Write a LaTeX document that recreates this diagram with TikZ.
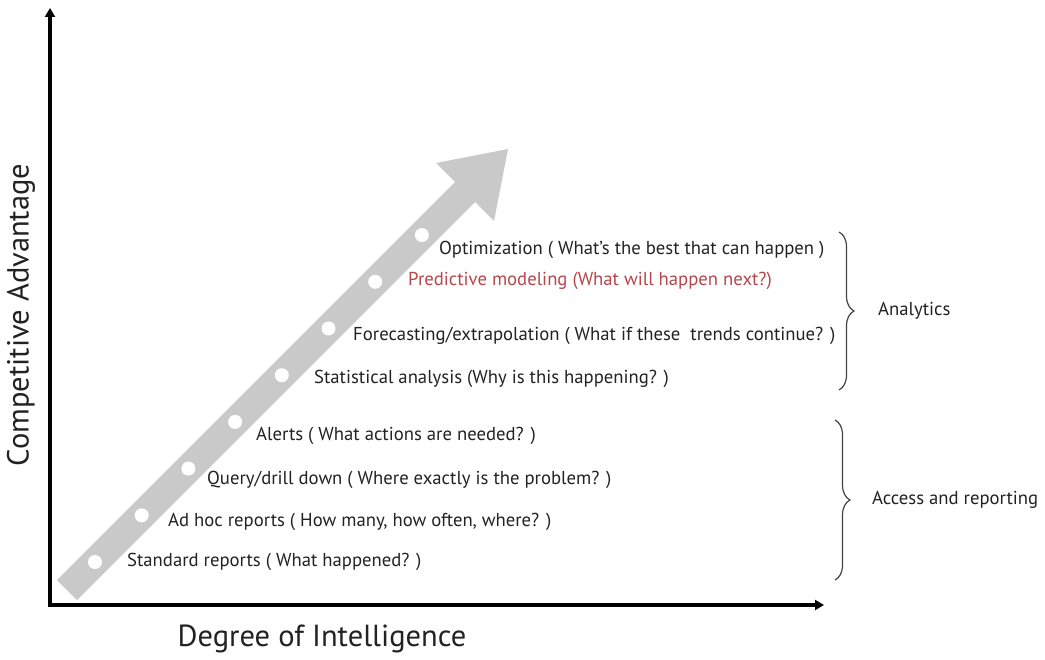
\documentclass[tikz,border=0pt]{standalone}
\usepackage{fontspec}
\setmainfont{PT Sans}
\usetikzlibrary{arrows.meta,decorations.pathreplacing}
\definecolor{arrowgray}{HTML}{C9C9C9}
\definecolor{txt}{HTML}{222222}
\definecolor{predred}{HTML}{B5474B}
\tikzset{
  x=1pt,y=-1pt,
  axisline/.style={line width=3.5pt,-{Triangle[length=9pt,width=10pt]}},
  item/.style={anchor=west,inner sep=0pt,text=txt,font=\fontsize{18.7}{20}\selectfont},
  bracestyle/.style={decorate,decoration={brace,amplitude=15pt},line width=1.2pt,draw=txt!85},
  grouplabel/.style={anchor=west,inner sep=0pt,text=txt,font=\fontsize{18.7}{20}\selectfont},
  axislabel/.style={inner sep=0pt,text=txt,font=\fontsize{30.5}{34}\selectfont},
  dot/.style={circle,fill=white,inner sep=0pt,minimum size=14pt}
}
\begin{document}
\begin{tikzpicture}
\useasboundingbox (0,0) rectangle (1045,660);
% axes
\coordinate (O) at (50,605);
\coordinate (Ytop) at (50,8);
\coordinate (Xend) at (824,605);
\coordinate (O2) at (48.25,605);
\draw[axisline] (O) -- (Ytop);
\draw[axisline] (O2) -- (Xend);
% diagonal arrow
\fill[arrowgray] (57,580) -- (455,182) -- (436,163) -- (508,149) -- (494,221) -- (475,202) -- (77,600) -- cycle;
\foreach \i in {0,...,7}{
  \pgfmathsetmacro{\xx}{95+46.7*\i}
  \node[dot] (d\i) at (\xx,657-\xx) {};
}
% items
\node[item] (i1) at (127,562) {Standard reports ( What happened? )};
\node[item] (i2) at (168,522) {Ad hoc reports ( How many, how often, where? )};
\node[item] (i3) at (207,480) {Query/drill down ( Where exactly is the problem? )};
\node[item] (i4) at (256,436) {Alerts ( What actions are needed? )};
\node[item] (i5) at (314,379) {Statistical analysis (Why is this happening? )};
\node[item] (i6) at (353,336) {Forecasting/extrapolation ( What if these\ \ trends continue? )};
\node[item,text=predred] (i7) at (408,281) {Predictive modeling (What will happen next?)};
\node[item] (i8) at (439,250) {Optimization ( What's the best that can happen )};
% braces
\coordinate (b1t) at (839,232);
\coordinate (b1b) at (839,390);
\coordinate (b2t) at (835,420);
\coordinate (b2b) at (835,580);
\draw[bracestyle] (b1t) -- (b1b);
\draw[bracestyle] (b2t) -- (b2b);
\node[grouplabel] (g1) at (878,311) {Analytics};
\node[grouplabel] (g2) at (872,500) {Access and reporting};
% axis labels
\node[axislabel,rotate=90] (ya) at (21,315) {Competitive Advantage};
\node[axislabel] (xa) at (322,639) {Degree of Intelligence};
\end{tikzpicture}
\end{document}
